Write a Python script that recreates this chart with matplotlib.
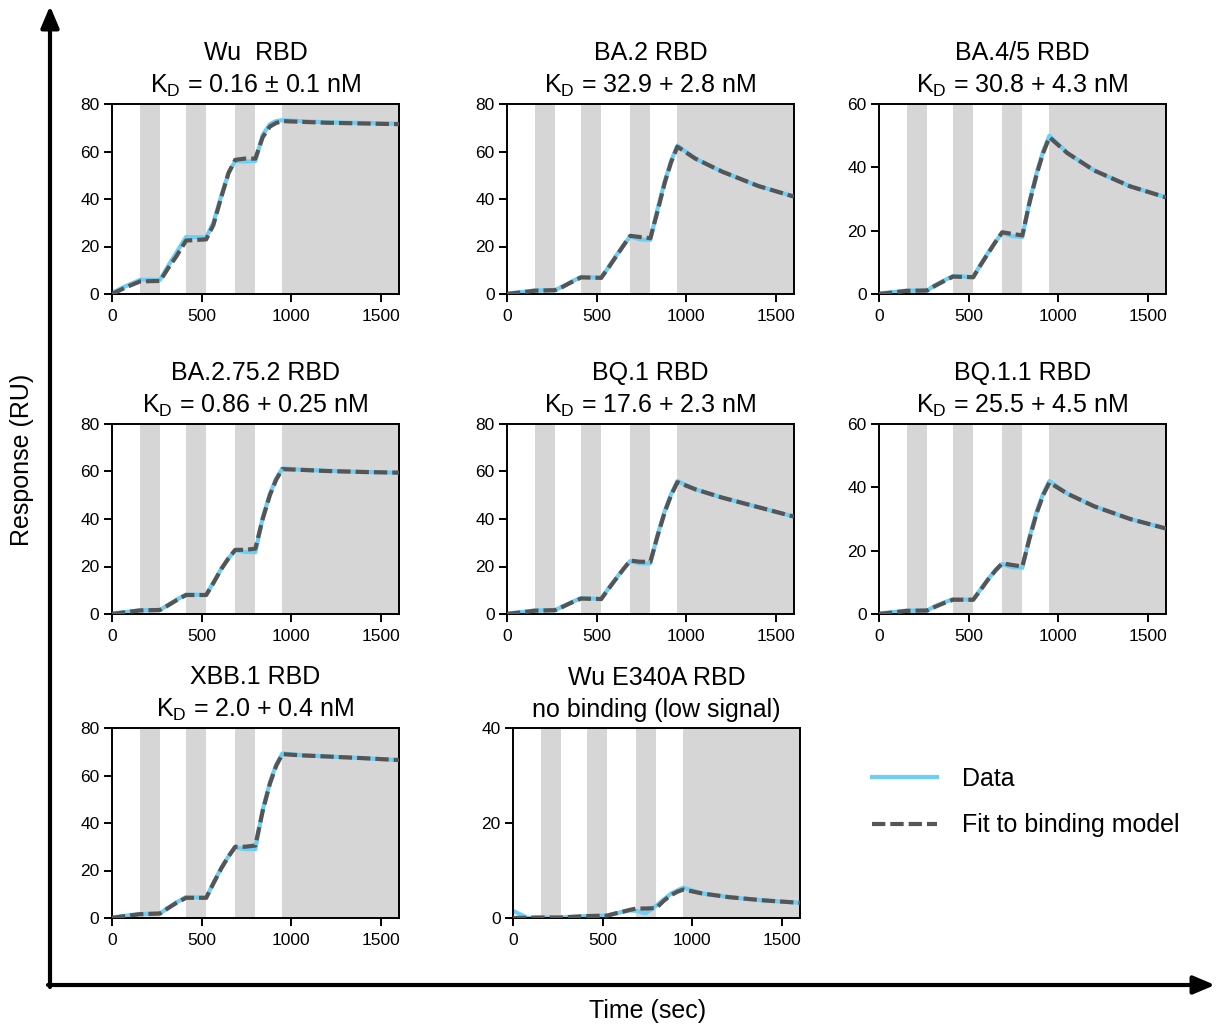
import numpy as np
import matplotlib
matplotlib.use('Agg')
from matplotlib import pyplot as plt
from matplotlib.lines import Line2D

plt.rcParams['font.family'] = ['Liberation Sans', 'DejaVu Sans']
plt.rcParams['mathtext.fontset'] = 'custom'
plt.rcParams['mathtext.rm'] = 'Liberation Sans'

# sampling times (s)
time = [0, 80, 157, 268, 310, 360, 413, 525, 565, 610, 650, 687, 740, 799,
        840, 880, 915, 950, 1050, 1200, 1400, 1600]

# injection (white) / dissociation (grey) bands
bands = [(157, 268), (413, 525), (687, 799), (950, 1600)]

names = ['Wu  RBD', 'BA.2 RBD', 'BA.4/5 RBD', 'BA.2.75.2 RBD', 'BQ.1 RBD',
         'BQ.1.1 RBD', 'XBB.1 RBD', 'Wu E340A RBD']
kd_text = ['0.16 \u00b1 0.1 nM', '32.9 + 2.8 nM', '30.8 + 4.3 nM', '0.86 + 0.25 nM',
           '17.6 + 2.3 nM', '25.5 + 4.5 nM', '2.0 + 0.4 nM', None]
ymax = [80, 80, 60, 80, 80, 60, 80, 40]

wu_fit = [0, 2.9, 5.3, 5.5, 10.5, 16, 22.5, 23, 29, 41, 51, 56.5, 57, 57,
          66, 70.5, 72, 72.8, 72.5, 72.1, 71.8, 71.5]
wu_data = [0.5, 3.4, 6, 6, 11.5, 17.5, 24, 23.8, 30, 41.5, 51, 56, 55.8, 56,
           67, 71.5, 72.8, 73.2, 72.8, 72.3, 72, 71.7]
ba2_fit = [0, 0.7, 1.4, 1.6, 3, 5, 7, 6.8, 11, 16, 20.5, 24.5, 24, 23.5,
           35, 47, 55.5, 62, 57, 51.5, 45.5, 41]
ba2_data = [0.2, 0.8, 1.5, 1.6, 3.2, 5.2, 7.2, 6.8, 11.2, 16.3, 20.5, 24.3, 23, 22.8,
            36, 47.5, 56, 62.5, 57, 51.5, 45.5, 41]
ba45_fit = [0, 0.5, 1, 1.1, 2.5, 4, 5.5, 5.3, 9, 13, 16.5, 19.5, 19, 18.5,
            29, 38, 44.5, 49.5, 44.5, 39, 34, 30.5]
ba45_data = [0.2, 0.6, 1.1, 1.1, 2.7, 4.2, 5.7, 5.3, 9.2, 13.2, 16.5, 19.3, 18.3, 18,
             29.5, 38.5, 45, 50, 44.5, 39, 34, 30.5]
ba2752_fit = [0, 0.8, 1.5, 1.7, 3.5, 5.8, 8, 8, 13, 19, 23.5, 27, 27, 27.5,
              40, 50, 56.5, 61, 60.7, 60.2, 59.8, 59.5]
ba2752_data = [0.2, 0.9, 1.6, 1.7, 3.7, 6, 8.2, 8, 13.2, 19.2, 23.5, 26.8, 26.2, 26,
               40.5, 50.5, 57, 61.3, 60.8, 60.3, 59.8, 59.5]
bq1_fit = [0, 0.7, 1.4, 1.6, 3, 4.8, 6.5, 6.3, 10.5, 15, 19, 22.5, 22, 22,
           33, 43, 50, 55.5, 52.5, 49, 45, 41]
bq1_data = [0.2, 0.8, 1.5, 1.6, 3.2, 5, 6.7, 6.3, 10.7, 15.2, 19, 22.3, 21.3, 21.3,
            33.5, 43.5, 50.5, 56, 52.5, 49, 45, 41]
bq11_fit = [0, 0.5, 1, 1.1, 2.2, 3.4, 4.5, 4.5, 7.5, 11, 13.8, 16, 15.5, 15,
            24, 32, 37.5, 41.5, 38, 34, 30, 27]
bq11_data = [0.2, 0.6, 1.1, 1.1, 2.4, 3.6, 4.7, 4.5, 7.7, 11.2, 13.8, 15.8, 14.8, 14.6,
             24.5, 32.5, 38, 42, 38, 34, 30, 27]
xbb1_fit = [0, 0.9, 1.6, 1.9, 4, 6.4, 8.5, 8.5, 14.5, 21, 26, 30, 30, 30.5,
            45, 56.5, 64, 69, 68.5, 68, 67.3, 66.5]
xbb1_data = [0.2, 1, 1.7, 1.9, 4.2, 6.6, 8.8, 8.5, 14.7, 21.2, 26, 29.8, 29, 29,
             45.5, 57, 64.5, 69.3, 68.6, 68, 67.3, 66.5]
e340a_fit = [0, 0.05, 0.1, 0.1, 0.2, 0.3, 0.4, 0.5, 0.9, 1.3, 1.7, 2, 2, 2.1,
             3.6, 4.8, 5.5, 6, 5.2, 4.4, 3.7, 3.2]
e340a_data = [1.5, 0.05, 0.1, 0.1, 0.2, 0.3, 0.4, 0.5, 0.9, 1.3, 1.6, 1.5, 1.0, 2.6,
              3.9, 5.1, 5.8, 6.4, 5.2, 4.4, 3.7, 3.2]

fits = [wu_fit, ba2_fit, ba45_fit, ba2752_fit, bq1_fit, bq11_fit, xbb1_fit, e340a_fit]
datas = [wu_data, ba2_data, ba45_data, ba2752_data, bq1_data, bq11_data, xbb1_data, e340a_data]

W, H = 1217, 1025
pos_px = [(112, 104), (507, 104), (879, 104),
          (112, 424), (507, 424), (879, 424),
          (112, 728), (513, 728)]
aw, ah = 287, 190

DATA_COLOR = '#6dcff6'
FIT_COLOR = '#555555'
BAND_COLOR = '#d6d6d6'

fig = plt.figure(figsize=(W / 100, H / 100), dpi=100)

for i in range(8):
    x0, y0 = pos_px[i]
    ax = fig.add_axes([x0 / W, 1 - (y0 + ah) / H, aw / W, ah / H])
    for a, b in bands:
        ax.axvspan(a, b, color=BAND_COLOR, lw=0, zorder=0)
    ax.plot(time, datas[i], color=DATA_COLOR, lw=3, zorder=2)
    ax.plot(time, fits[i], color=FIT_COLOR, lw=3, ls=(0, (3.2, 1.2)), zorder=3)
    ax.set_xlim(0, 1600)
    ax.set_ylim(0, ymax[i])
    ax.set_xticks([0, 500, 1000, 1500])
    ax.set_yticks(np.arange(0, ymax[i] + 1, 20))
    ax.tick_params(labelsize=12.5, length=6, width=1.4, direction='out', pad=3)
    ax.tick_params(axis='x', pad=5)
    for s in ax.spines.values():
        s.set_linewidth(1.4)
    if kd_text[i] is None:
        title = names[i] + '\nno binding (low signal)'
    else:
        title = names[i] + '\nK$_\\mathregular{D}$ = ' + kd_text[i]
    ax.set_title(title, fontsize=18, pad=8, linespacing=1.4)

# big axis arrows
over = fig.add_axes([0, 0, 1, 1], facecolor='none')
over.set_xlim(0, W)
over.set_ylim(H, 0)
over.axis('off')
over.annotate('', xy=(50, 6), xytext=(50, 987),
              arrowprops=dict(arrowstyle='-|>,head_length=1.3,head_width=0.55', lw=3, color='black',
                              shrinkA=0, shrinkB=0))
over.annotate('', xy=(1215, 985), xytext=(48, 985),
              arrowprops=dict(arrowstyle='-|>,head_length=1.3,head_width=0.55', lw=3, color='black',
                              shrinkA=0, shrinkB=0))
over.text(648, 1011, 'Time (sec)', fontsize=18, ha='center', va='center')
over.text(22, 460, 'Response (RU)', fontsize=18, ha='center', va='center', rotation=90)

handles = [Line2D([], [], color=DATA_COLOR, lw=3),
           Line2D([], [], color=FIT_COLOR, lw=3, ls=(0, (3.2, 1.2)))]
fig.legend(handles, ['Data', 'Fit to binding model'], loc='center left',
           bbox_to_anchor=(849 / W, 1 - 802 / H), frameon=False, fontsize=18,
           handlelength=2.6, handletextpad=1.0, labelspacing=0.9)

fig.savefig('out.png', dpi=100)
